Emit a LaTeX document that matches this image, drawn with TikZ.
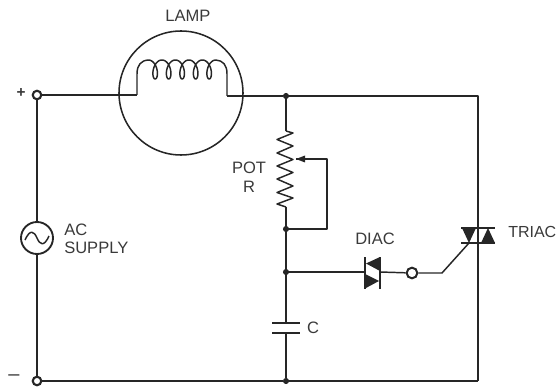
\documentclass[tikz,border=0pt]{standalone}
\usepackage{fontspec}
\setmainfont{Liberation Sans}
\usetikzlibrary{arrows.meta}
\definecolor{ink}{HTML}{262626}
\definecolor{lab}{HTML}{3A3A3A}
\tikzset{
 wire/.style={draw=ink,line width=1.25pt,line join=round},
 thin wire/.style={draw=ink,line width=1.1pt,line join=round},
 dotj/.style={circle,fill=ink,draw=none,inner sep=0pt,minimum size=4.6pt},
 term/.style={circle,fill=white,draw=ink,line width=1.6pt,inner sep=0pt,minimum size=6.4pt},
 lbl/.style={text=lab,font=\fontsize{12.4}{14}\selectfont,inner sep=0pt},
}
\begin{document}
\begin{tikzpicture}[x=0.75pt,y=-0.75pt]
\useasboundingbox (0,0) rectangle (559,388);
% named points
\node[term] (tp) at (37,95) {};
\node[term] (tm) at (37,381) {};
\node[dotj] (j1) at (286,96) {};
\node[dotj] (j2) at (286,229) {};
\node[dotj] (j3) at (286,272) {};
\node[dotj] (j4) at (286,381) {};
\coordinate (tr1) at (478,96);
\coordinate (tr2) at (478,381);
\coordinate (trtop) at (478,228);
\coordinate (trbot) at (478,243);
\coordinate (lampL) at (137,95);
\coordinate (lampR) at (227,96);
\coordinate (potT) at (286,131);
\coordinate (potB) at (286,207);
\coordinate (wipe) at (327,159);
\coordinate (wipeB) at (327,229);
\coordinate (wipeTip) at (296,159);
\coordinate (capT) at (286,323);
\coordinate (capB) at (286,333);
\coordinate (diL) at (365,272);
\coordinate (diR) at (380,272);
\coordinate (gbend) at (442,273);
\coordinate (gate) at (469,243);
\node[term,line width=1.5pt,minimum size=8pt] (go) at (412,273) {};
\node[circle,draw=ink,line width=1.4pt,fill=white,inner sep=0pt,minimum size=24pt] (ac) at (37,238) {};
% wires
\draw[wire] (tp) -- (lampL);
\draw[wire] (lampR) -- (j1);
\draw[wire] (j1) -- (tr1) -- (trtop);
\draw[wire] (trbot) -- (tr2);
\draw[wire] (tm) -- (j4);
\draw[wire] (j4) -- (tr2);
\draw[wire] (tp) -- (ac);
\draw[thin wire] (ac) -- (tm);
\draw[wire] (j1) -- (potT);
\draw[wire] (potB) -- (j2);
\draw[wire] (j2) -- (j3);
\draw[wire] (j3) -- (capT);
\draw[thin wire] (capB) -- (j4);
\draw[thin wire] (j3) -- (diL);
\draw[thin wire] (diR) -- (go);
\draw[thin wire] (go) -- (gbend) -- (gate);
\draw[wire] (j2) -- (wipeB) -- (wipe) -- (wipeTip);
\fill[ink] (296,159) -- (305,155.5) -- (305,162.5) -- cycle;
% lamp
\node[circle,draw=ink,line width=1.15pt,inner sep=0pt,minimum size=93pt] (lampc) at (181,93) {};
\draw[thin wire] (lampL) -- (137,74) .. controls (137,65) and (141,60.5) .. (148.4,60)
  plot[domain=0:31.4159,samples=220,smooth] ({148.4+13.5*\x/6.2832+5.2*sin(\x r)},{69.5-9.5*cos(\x r)})
  (215.9,60) .. controls (223,60.5) and (227,65) .. (227,74) -- (lampR);
% pot
\draw[thin wire] (potT) -- (293,133) -- (277,139.5) -- (293,146) -- (277,153) -- (293,159.5) -- (277,166) -- (293,172.5) -- (277,179) -- (293,186) -- (277,192.5) -- (293,198) -- (277,204) -- (potB);
% capacitor
\draw[wire] (272,323) -- (300,323);
\draw[wire] (272,333) -- (300,333);
% AC sine
\draw[thin wire] (25,240) .. controls (30,229) and (34,231) .. (37,238) .. controls (40,245) and (44,247) .. (49,236);
% diac
\draw[thin wire] (365,257) -- (365,289);
\draw[thin wire] (380,257) -- (380,289);
\fill[ink] (366,263.5) -- (380,257) -- (380,271) -- cycle;
\fill[ink] (379,281) -- (365,274) -- (365,288.5) -- cycle;
% triac
\draw[thin wire] (461,228) -- (495,228);
\draw[thin wire] (461,243) -- (495,243);
\fill[ink] (462,228) -- (476,228) -- (469,243) -- cycle;
\fill[ink] (481,243) -- (495,243) -- (488,228) -- cycle;
\draw[wire] (trtop) -- (trbot);
% labels
\node[lbl] (llamp) at (188,16) {LAMP};
\node[lbl,font=\fontsize{11.5}{13}\selectfont\bfseries] (lplus) at (21,93) {+};
\node[lbl,font=\fontsize{15}{16}\selectfont] (lminus) at (14,378) {–};
\node[lbl,anchor=west] (lac) at (64,230) {AC};
\node[lbl,anchor=west] (lsup) at (64,248) {SUPPLY};
\node[lbl] (lpot) at (249,168) {POT};
\node[lbl] (lr) at (249,187) {R};
\node[lbl] (ldiac) at (375,239) {DIAC};
\node[lbl,anchor=west,font=\fontsize{12}{14}\selectfont] (ltriac) at (508,232) {TRIAC};
\node[lbl] (lc) at (313,328) {C};
\end{tikzpicture}
\end{document}
